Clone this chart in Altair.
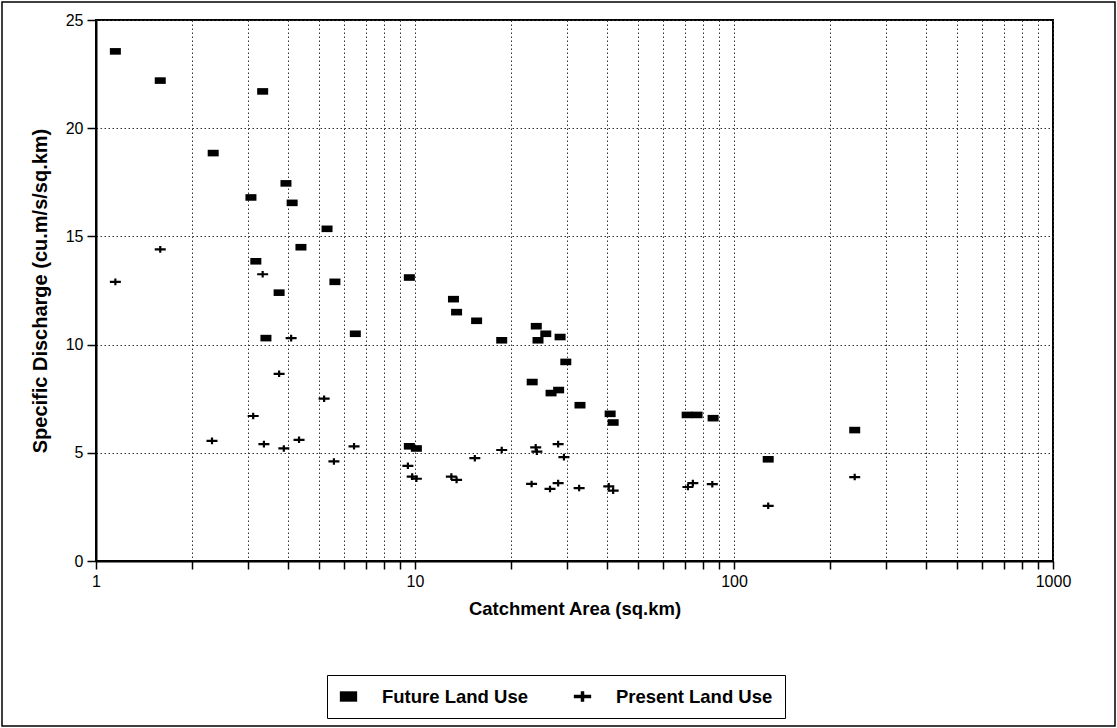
import altair as alt
import pandas as pd

# ---- data ----
future_area = [1.15, 1.59, 3.33, 2.33, 3.94, 3.06, 4.12, 5.30, 4.39, 3.17, 5.61, 3.75,
               3.41, 6.5, 9.6, 13.2, 13.5, 15.6, 18.7, 24.0, 25.7, 24.3, 28.5, 29.7,
               23.3, 26.7, 28.2, 32.9, 40.9, 41.8, 71.3, 76.6, 86.0, 128.0, 239.0, 9.6, 10.1]
future_q = [23.55, 22.2, 21.7, 18.85, 17.45, 16.8, 16.55, 15.35, 14.5, 13.85, 12.9, 12.4,
            10.3, 10.5, 13.1, 12.1, 11.5, 11.1, 10.2, 10.85, 10.5, 10.2, 10.35, 9.2,
            8.27, 7.76, 7.9, 7.2, 6.8, 6.4, 6.75, 6.75, 6.6, 4.7, 6.05, 5.3, 5.2]

present_area = [1.15, 1.59, 3.33, 4.09, 3.75, 5.19, 3.11, 2.31, 3.36, 3.88, 4.33, 5.57,
                6.44, 9.5, 9.8, 10.1, 13.0, 13.5, 15.4, 18.7, 23.9, 24.1, 28.1, 29.3,
                23.2, 26.5, 28.1, 32.7, 40.5, 41.8, 71.7, 74.3, 85.5, 128.0, 239.0]
present_q = [12.9, 14.4, 13.25, 10.3, 8.65, 7.5, 6.7, 5.55, 5.4, 5.2, 5.6, 4.6,
             5.3, 4.4, 3.9, 3.8, 3.9, 3.75, 4.75, 5.13, 5.25, 5.05, 5.4, 4.8,
             3.56, 3.33, 3.6, 3.37, 3.45, 3.25, 3.42, 3.6, 3.55, 2.55, 3.88]

series_names = ["Future Land Use", "Present Land Use"]
x_ticks = [1, 2, 3, 4, 5, 6, 7, 8, 9, 10, 20, 30, 40, 50, 60, 70, 80, 90,
           100, 200, 300, 400, 500, 600, 700, 800, 900, 1000]
y_ticks = [0, 5, 10, 15, 20, 25]

df = pd.DataFrame({
    "area": future_area + present_area,
    "q": future_q + present_q,
    "series": [series_names[0]] * len(future_area) + [series_names[1]] * len(present_area),
})

FONT = "Liberation Sans"
W, H = 957, 541
PAD_L, PAD_T = 96, 20

square_path = "M-1,-0.6H1V0.6H-1Z"
plus_path = "M-1,-0.2H-0.2V-0.6H0.2V-0.2H1V0.2H0.2V0.6H-0.2V0.2H-1Z"

points = alt.Chart(df).mark_point(
    filled=True, color="black", opacity=1, size=121
).encode(
    x=alt.X("area:Q",
            scale=alt.Scale(type="log", domain=[1, 1000], nice=False),
            axis=alt.Axis(
                values=x_ticks,
                title="Catchment Area (sq.km)",
                labelExpr="(datum.value==1||datum.value==10||datum.value==100||datum.value==1000) ? format(datum.value,'d') : ''",
                labelOverlap=False, labelFlush=False,
                grid=True, gridColor="#333333", gridDash=[1.5, 2.5], gridWidth=1,
                tickSize=8, tickColor="black", tickWidth=1.5,
                domain=True, domainColor="black", domainWidth=2,
                labelFont=FONT, labelFontSize=16, labelColor="black", labelPadding=4,
                titleFont=FONT, titleFontSize=18.5, titleFontWeight="bold",
                titleColor="black", titlePadding=10,
            )),
    y=alt.Y("q:Q",
            scale=alt.Scale(domain=[0, 25], nice=False),
            axis=alt.Axis(
                values=y_ticks,
                title="Specific Discharge (cu.m/s/sq.km)",
                grid=True, gridColor="#333333", gridDash=[1.5, 2.5], gridWidth=1,
                tickSize=9, tickColor="black", tickWidth=1.5,
                domain=True, domainColor="black", domainWidth=2,
                labelFont=FONT, labelFontSize=16, labelColor="black", labelPadding=4,
                titleFont=FONT, titleFontSize=20, titleFontWeight="bold",
                titleColor="black", titlePadding=15,
            )),
    shape=alt.Shape("series:N",
                    scale=alt.Scale(domain=series_names, range=[square_path, plus_path]),
                    legend=alt.Legend(
                        title=None, orient="none", direction="horizontal",
                        legendX=231, legendY=655,
                        strokeColor="black", padding=12,
                        symbolSize=300, symbolFillColor="black",
                        labelFont=FONT, labelFontSize=18.5, labelFontWeight="bold",
                        labelColor="black", labelOffset=24, columnPadding=42,
                        labelLimit=300,
                    )),
)

frame_df = pd.DataFrame({"k": [0]})
frame = alt.Chart(frame_df).mark_rect(
    fill=None, stroke="black", strokeWidth=1.5, clip=False
).encode(
    x=alt.value(-PAD_L + 2), x2=alt.value(W + 62),
    y=alt.value(-PAD_T + 2), y2=alt.value(H + 165),
)

chart = alt.layer(points, frame).properties(
    width=W, height=H,
    padding={"left": PAD_L, "top": PAD_T, "right": 1117 - PAD_L - W, "bottom": 728 - PAD_T - H},
    autosize=alt.AutoSizeParams(type="none"),
    background="white",
).configure_view(stroke="black", strokeWidth=2)

chart.save("out.html", embed_options={"renderer": "svg", "actions": False})
